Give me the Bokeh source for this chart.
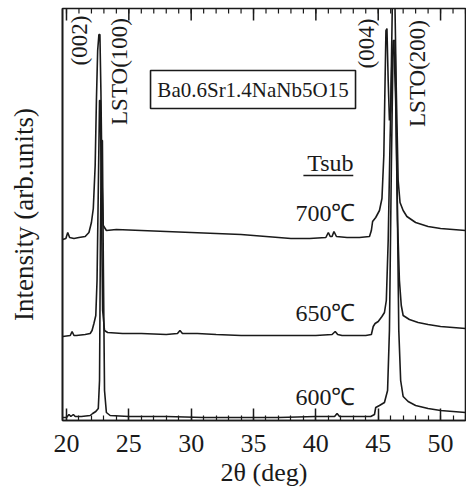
import math
from bokeh.plotting import figure
from bokeh.models import Range1d, FixedTicker, Label, BoxAnnotation
from bokeh.embed import file_html
from bokeh.resources import INLINE

# ---- data (2theta in deg, intensity in arb. units, curves already offset) ----
x_700 = [19.7, 19.95, 20.1, 20.25, 20.6, 21.0, 21.5, 21.8, 22.0, 22.15, 22.3, 22.4, 22.5, 22.6, 22.68,
         22.76, 22.85, 22.95, 23.2, 24.0, 26.0, 28.0, 30.0, 32.0, 34.0, 36.0, 38.0, 39.5, 40.8, 41.0,
         41.15, 41.3, 41.45, 41.65, 42.5, 43.5, 44.3, 44.45, 44.55, 44.8, 45.1, 45.3, 45.45, 45.55,
         45.62, 45.7, 45.8, 45.9, 46.0, 46.15, 46.3, 46.45, 46.6, 46.75, 47.0, 47.3, 48.0, 49.0, 50.0,
         51.0, 52.0]
y_700 = [181, 182, 188, 183, 182, 183, 184, 188, 198, 212, 255, 320, 370, 386, 386,
         330, 240, 195, 190, 191, 190, 189, 188, 187, 186, 184, 182, 182, 183, 188,
         184, 184, 189, 184, 183, 183, 184, 190, 199, 203, 210, 222, 265, 340,
         390, 392, 340, 300, 310, 430, 450, 330, 240, 218, 210, 204, 198, 194, 192,
         191, 190]

x_650 = [19.7, 20.3, 20.45, 20.6, 20.8, 21.5, 21.9, 22.05, 22.2, 22.35, 22.45, 22.55, 22.65, 22.72,
         22.8, 22.9, 23.05, 23.3, 24.5, 26.0, 28.0, 28.9, 29.1, 29.3, 30.5, 32.0, 34.0, 36.0, 38.0,
         40.0, 41.3, 41.55, 41.75, 42.1, 43.0, 44.0, 44.45, 44.6, 44.75, 45.0, 45.3, 45.5, 45.65,
         45.8, 45.95, 46.1, 46.25, 46.4, 46.55, 46.7, 46.85, 47.0, 47.5, 48.2, 49.0, 50.0, 51.0, 52.0]
y_650 = [84, 85, 89, 85, 85, 86, 87, 90, 97, 105, 140, 230, 320, 320,
         220, 110, 90, 88, 87, 87, 86, 87, 90, 87, 87, 86, 85, 85, 85,
         85, 86, 89, 86, 85, 85, 85, 86, 94, 97, 99, 104, 108, 120,
         180, 280, 360, 380, 320, 200, 140, 115, 105, 101, 98, 96, 94, 93, 92]

x_600 = [19.7, 20.0, 20.2, 20.35, 20.55, 20.7, 21.2, 21.9, 22.1, 22.35, 22.55, 22.65, 22.72, 22.8,
         22.88, 22.96, 23.05, 23.2, 23.5, 25.0, 28.0, 31.0, 34.0, 37.0, 40.0, 41.5, 41.7, 41.9, 43.0,
         44.4, 44.7, 44.8, 45.1, 45.5, 45.75, 45.9, 46.05, 46.2, 46.35, 46.5, 46.65, 46.8, 47.0, 47.4,
         48.0, 49.0, 50.0, 51.0, 52.0]
y_600 = [3, 3, 6, 4, 6, 4, 4, 5, 7, 9, 12, 40, 180, 280,
         280, 150, 30, 8, 5, 4, 4, 3, 3, 3, 4, 4, 7, 4, 4,
         4, 6, 13, 15, 18, 30, 90, 250, 380, 380, 250, 90, 40, 24, 19,
         15, 12, 10, 9, 8]

x_ticks = [20, 25, 30, 35, 40, 45, 50]
x_minor = list(range(20, 53))

temp_labels = ["700℃", "650℃", "600℃"]
temp_label_y = [208, 108, 24]

Y_MIN, Y_MAX = 0, 412
FONT = "Liberation Serif"
INK = "#1a1a1a"

p = figure(width=466, height=492, output_backend="svg", toolbar_location=None,
           x_range=Range1d(19.68, 52.0), y_range=Range1d(Y_MIN, Y_MAX),
           min_border_left=62, min_border_right=1, min_border_top=8, min_border_bottom=72)
p.grid.visible = False
p.background_fill_color = "white"
p.border_fill_color = "white"
p.outline_line_color = INK
p.outline_line_width = 1.6

for xs, ys in [(x_700, y_700), (x_650, y_650), (x_600, y_600)]:
    p.line(xs, ys, line_color=INK, line_width=1.6)

# bottom axis
xa = p.xaxis[0]
xa.ticker = FixedTicker(ticks=x_ticks, minor_ticks=x_minor)
xa.major_tick_in = 12
xa.major_tick_out = 0
xa.minor_tick_in = 5
xa.minor_tick_out = 0
xa.major_tick_line_width = 1.5
xa.minor_tick_line_width = 1.2
xa.major_tick_line_color = INK
xa.minor_tick_line_color = INK
xa.axis_line_color = INK
xa.axis_line_width = 1.6
xa.major_label_text_font = FONT
xa.major_label_text_font_size = "26px"
xa.major_label_text_color = INK
xa.major_label_standoff = 14
xa.axis_label = "2θ (deg)"
xa.axis_label_text_font = FONT
xa.axis_label_text_font_size = "26px"
xa.axis_label_text_font_style = "normal"
xa.axis_label_text_color = INK
xa.axis_label_standoff = 3

# left axis: label only
ya = p.yaxis[0]
ya.ticker = FixedTicker(ticks=[])
ya.major_tick_line_color = None
ya.minor_tick_line_color = None
ya.axis_line_color = INK
ya.axis_line_width = 1.6
ya.axis_label = "Intensity (arb.units)"
ya.axis_label_text_font = FONT
ya.axis_label_text_font_size = "27px"
ya.axis_label_text_font_style = "normal"
ya.axis_label_text_color = INK
ya.axis_label_standoff = 24

# top edge: inward ticks matching the bottom axis
p.segment(x0=x_minor, y0=[Y_MAX] * len(x_minor), x1=x_minor, y1=[Y_MAX - 5] * len(x_minor),
          line_color=INK, line_width=1.2)
p.segment(x0=x_ticks, y0=[Y_MAX] * len(x_ticks), x1=x_ticks, y1=[Y_MAX - 12] * len(x_ticks),
          line_color=INK, line_width=1.5)

# peak labels
peak_labels = ["(002)", "LSTO(100)", "(004)", "LSTO(200)"]
peak_x = [21.04, 24.25, 44.06, 48.15]
peak_y = [380, 349, 377, 347]
for t, x, y in zip(peak_labels, peak_x, peak_y):
    p.add_layout(Label(x=x, y=y, text=t, angle=math.pi / 2, text_align="center",
                       text_baseline="middle", text_font=FONT, text_font_size="23px",
                       text_color=INK))

# composition box
p.add_layout(BoxAnnotation(left=26.74, right=43.18, bottom=312, top=350,
                           fill_color=None, fill_alpha=0, line_color=INK, line_alpha=1.0,
                           line_width=1.6))
p.add_layout(Label(x=34.96, y=331, text="Ba0.6Sr1.4NaNb5O15", text_align="center",
                   text_baseline="middle", text_font=FONT, text_font_size="21px",
                   text_color=INK))

# Tsub legend
p.add_layout(Label(x=41.17, y=258, text="Tsub", text_align="center", text_baseline="middle",
                   text_font=FONT, text_font_size="24px", text_color=INK))
p.segment(x0=[39.0], y0=[245], x1=[43.0], y1=[245], line_color=INK, line_width=1.5)
for t, y in zip(temp_labels, temp_label_y):
    p.add_layout(Label(x=40.77, y=y, text=t, text_align="center", text_baseline="middle",
                       text_font=FONT, text_font_size="24px", text_color=INK))

open("out.html", "w").write(file_html(p, INLINE))
